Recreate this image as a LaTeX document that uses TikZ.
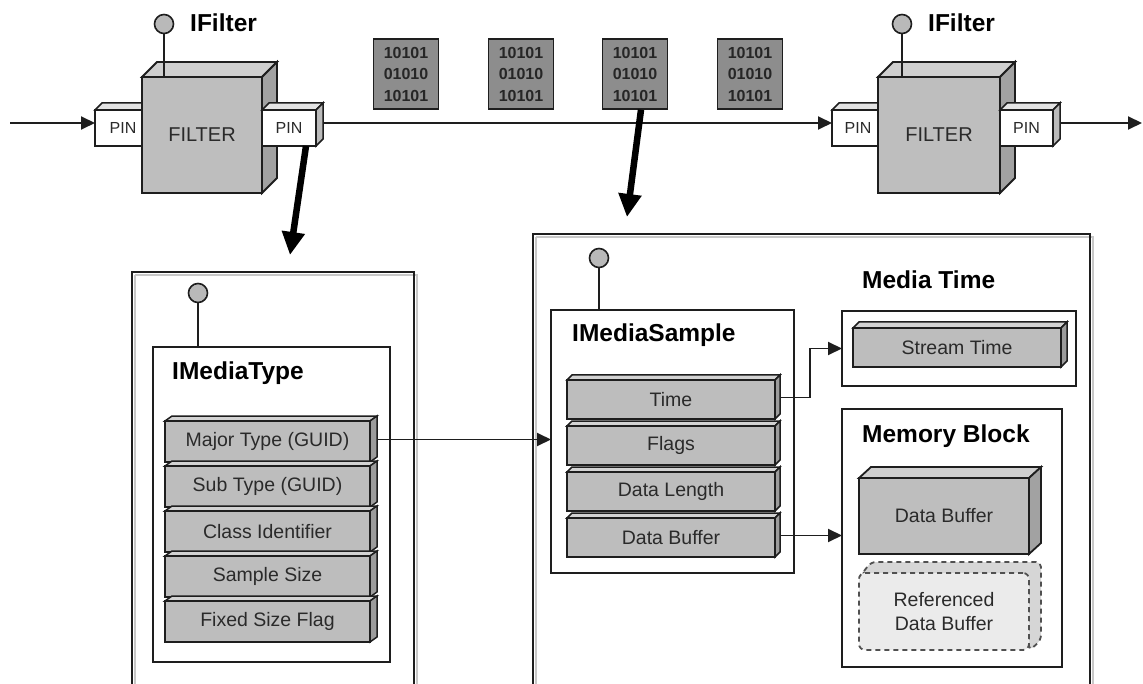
\documentclass[tikz,border=0pt]{standalone}
\usepackage{fontspec}
\setmainfont{Liberation Sans}
\usetikzlibrary{arrows.meta,calc}

\definecolor{ink}{HTML}{1E1E1E}
\definecolor{txt}{HTML}{2A2A2A}
\definecolor{filtfront}{HTML}{BEBEBE}
\definecolor{filttop}{HTML}{CFCFCF}
\definecolor{filtside}{HTML}{A2A2A2}
\definecolor{barfront}{HTML}{BDBDBD}
\definecolor{bartop}{HTML}{D3D3D3}
\definecolor{barside}{HTML}{9C9C9C}
\definecolor{pintop}{HTML}{E4E4E4}
\definecolor{pinside}{HTML}{BBBBBB}
\definecolor{blockfill}{HTML}{8D8D8D}
\definecolor{lollifill}{HTML}{B9B9B9}
\definecolor{shadeline}{HTML}{C8C8C8}
\definecolor{reffront}{HTML}{EBEBEB}
\definecolor{refback}{HTML}{D6D6D6}
\definecolor{refdash}{HTML}{505050}

% a box seen in perspective: top face, right face, then the named front face
% #1 kind, #2 name, #3 x1, #4 y1, #5 x2, #6 y2, #7 depth x, #8 depth y, #9 label
\newcommand\cuboid[9]{%
  \filldraw[#1 top] (#3,#4) -- (#3+#7,#4-#8) -- (#5+#7,#4-#8) -- (#5,#4) -- cycle;
  \filldraw[#1 side] (#5,#4) -- (#5+#7,#4-#8) -- (#5+#7,#6-#8) -- (#5,#6) -- cycle;
  \node[#1 front, minimum width={(#5-#3)*1pt}, minimum height={(#6-#4)*1pt}]
    (#2) at ({(#3+#5)/2},{(#4+#6)/2}) {#9};
}

\begin{document}
\begin{tikzpicture}[x=1pt,y=-1pt,
  outl/.style={draw=ink,line width=1.8pt},
  thin outl/.style={draw=ink,line width=1.5pt},
  filter top/.style={outl,fill=filttop},
  filter side/.style={outl,fill=filtside},
  filter front/.style={outl,fill=filtfront,inner sep=0pt,outer sep=0pt,text=txt,
    font=\fontsize{20}{24}\selectfont},
  buf top/.style={outl,fill=filttop},
  buf side/.style={outl,fill=filtside},
  buf front/.style={outl,fill=filtfront,inner sep=0pt,outer sep=0pt,text=txt,
    font=\fontsize{19.5}{24}\selectfont},
  pin top/.style={thin outl,fill=pintop},
  pin side/.style={thin outl,fill=pinside},
  pin front/.style={thin outl,fill=white,inner sep=0pt,outer sep=0pt,text=txt,
    font=\fontsize{16}{19}\selectfont},
  pin label/.style={inner sep=0pt,text=txt,font=\fontsize{16}{19}\selectfont},
  bar top/.style={thin outl,fill=bartop},
  bar side/.style={thin outl,fill=barside},
  bar front/.style={thin outl,fill=barfront,inner sep=0pt,outer sep=0pt,text=txt,
    font=\fontsize{19.5}{23}\selectfont},
  packet/.style={thin outl,fill=blockfill,inner sep=0pt,minimum width=65pt,
    minimum height=70pt,align=center,text=black!85,
    font=\bfseries\fontsize{16}{21.5}\selectfont},
  lolli/.style={circle,draw=ink,line width=1.6pt,fill=lollifill,minimum size=19pt,
    inner sep=0pt},
  stem/.style={draw=ink,line width=1.8pt},
  heading/.style={anchor=base west,inner sep=0pt,text=black,
    font=\bfseries\fontsize{24.5}{28}\selectfont},
  panel/.style={draw=ink,line width=2pt,inner sep=0pt,outer sep=0pt},
  wrapper/.style={draw=ink,line width=2.2pt,inner sep=0pt,outer sep=0pt,anchor=north west},
  wrapshade/.style={draw=shadeline,line width=2.5pt},
  flow/.style={draw=ink,line width=1.9pt,-{Triangle[length=14pt,width=13pt]}},
  bigflow/.style={draw=black,line width=6.5pt,-{Triangle[length=23pt,width=22pt]}},
]
\useasboundingbox (0,0) rectangle (1143,684);
\clip (0,0) rectangle (1143,684);

% ---------------- first filter ----------------
\cuboid{pin}{inA}{95}{110}{142}{146}{7}{7}{}
\node[pin label] (inAtext) at (123,128) {PIN};
\cuboid{filter}{filtA}{142}{77}{262}{193}{15}{15}{FILTER}
\cuboid{pin}{outA}{262}{110}{316}{146}{7}{7}{PIN}
\node[lolli] (lolA) at (164,24) {};
\draw[stem] (lolA.south) -- (lolA |- filtA.north);
\node[heading] (ifA) at (190,32) {IFilter};

% ---------------- second filter ----------------
\cuboid{pin}{inB}{832}{110}{878}{146}{7}{7}{}
\node[pin label] (inBtext) at (858,128) {PIN};
\cuboid{filter}{filtB}{878}{77}{1000}{193}{15}{15}{FILTER}
\cuboid{pin}{outB}{1000}{110}{1053}{146}{7}{7}{PIN}
\node[lolli] (lolB) at (902,24) {};
\draw[stem] (lolB.south) -- (lolB |- filtB.north);
\node[heading] (ifB) at (928,32) {IFilter};

% ---------------- stream of samples ----------------
\node[packet] (pk1) at (406,74) {10101\\01010\\10101};
\node[packet] (pk2) at (521,74) {10101\\01010\\10101};
\node[packet] (pk3) at (635,74) {10101\\01010\\10101};
\node[packet] (pk4) at (750,74) {10101\\01010\\10101};

\coordinate (src) at (10,123);
\coordinate (sink) at (1142,123);
\coordinate (linkA) at ($(outA.east)+(7pt,5pt)$);
\coordinate (linkB) at ($(outB.east)+(7pt,5pt)$);
\draw[flow] (src) -- (src -| inA.west);
\draw[flow] (linkA) -- (linkA -| inB.west);
\draw[flow] (linkB) -- (sink);

% ---------------- media type wrapper ----------------
\draw[wrapshade] (135,275) -- (417,275) -- (417,700);
\draw[wrapshade] (135,275) -- (135,700);
\node[wrapper,minimum width=282pt,minimum height=440pt] (typewrap) at (132,272) {};
\node[panel,minimum width=237pt,minimum height=315pt,anchor=north west] (mtype) at (153,347) {};
\node[lolli] (lolT) at (198,293) {};
\draw[stem] (lolT.south) -- (lolT |- mtype.north);
\node[heading] (mtypeT) at (172,380) {IMediaType};
\cuboid{bar}{major}{165}{421}{370}{462}{7}{5}{Major Type (GUID)}
\cuboid{bar}{sub}{165}{466}{370}{507}{7}{5}{Sub Type (GUID)}
\cuboid{bar}{clsid}{165}{511}{370}{552}{7}{5}{Class Identifier}
\cuboid{bar}{ssize}{165}{556}{370}{597}{7}{5}{Sample Size}
\cuboid{bar}{fixed}{165}{601}{370}{642}{7}{5}{Fixed Size Flag}

% ---------------- media sample wrapper ----------------
\draw[wrapshade] (536,237) -- (1093,237) -- (1093,700);
\draw[wrapshade] (536,237) -- (536,700);
\node[wrapper,minimum width=557pt,minimum height=470pt] (samplewrap) at (533,234) {};
\node[panel,minimum width=243pt,minimum height=263pt,anchor=north west] (msample) at (551,310) {};
\node[lolli] (lolS) at (599,258) {};
\draw[stem] (lolS.south) -- (lolS |- msample.north);
\node[heading] (msampleT) at (572,342) {IMediaSample};
\cuboid{bar}{time}{567}{380}{775}{419}{5}{5}{Time}
\cuboid{bar}{flags}{567}{426}{775}{465}{5}{5}{Flags}
\cuboid{bar}{dlen}{567}{472}{775}{511}{5}{5}{Data Length}
\cuboid{bar}{dbuf}{567}{518}{775}{557}{5}{5}{Data Buffer}

% media time
\node[heading] (mtimeT) at (862,289) {Media Time};
\node[panel,minimum width=234pt,minimum height=75pt,anchor=north west] (mtime) at (842,311) {};
\cuboid{bar}{stime}{853}{328}{1061}{367}{6}{6}{Stream Time}

% memory block
\node[panel,minimum width=220pt,minimum height=258pt,anchor=north west] (memblk) at (842,409) {};
\node[heading] (memblkT) at (862,442) {Memory Block};
\cuboid{buf}{membuf}{859}{478}{1029}{554}{12}{11}{Data Buffer}
\filldraw[draw=refdash,line width=1.8pt,dash pattern=on 5pt off 4pt,fill=refback,
  rounded corners=5pt]
  (861,575) -- (871,562) -- (1041,562) -- (1041,640) -- (1029,651) -- (1029,575) -- cycle;
\node[draw=refdash,line width=1.8pt,dash pattern=on 5pt off 4pt,fill=reffront,
  rounded corners=6pt,minimum width=170pt,minimum height=77pt,inner sep=0pt,
  align=center,text=txt,font=\fontsize{19.5}{24}\selectfont]
  (refbuf) at (944,611.5) {Referenced\\Data Buffer};

% ---------------- references between parts ----------------
\coordinate (typeArrow) at (290,255);
\coordinate (sampleArrow) at (627,217);
\draw[bigflow] ([xshift=17pt]outA.south) -- (typeArrow);
\draw[bigflow] ([xshift=6pt]pk3.south) -- (sampleArrow);

\coordinate (majorOut) at ($(major.east)+(7pt,2pt)$);
\draw[flow] (majorOut) -- (majorOut -| msample.west);
\coordinate (timeOut) at ($(time.east)+(5pt,2pt)$);
\draw[flow] (timeOut) -| ([xshift=-32pt]mtime.west) -- (mtime.west);
\coordinate (bufOut) at ($(dbuf.east)+(5pt,2pt)$);
\draw[flow] (bufOut) -- (bufOut -| memblk.west);
\end{tikzpicture}
\end{document}
